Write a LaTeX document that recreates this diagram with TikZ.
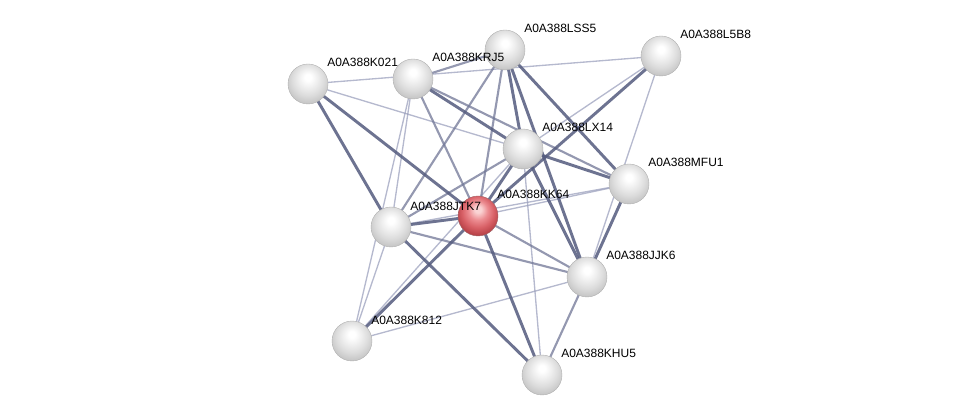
\documentclass[tikz,border=0pt]{standalone}
\usepackage{fontspec}
\setmainfont{Liberation Sans}
\usepackage{tikz}
\usetikzlibrary{backgrounds}
\definecolor{linkdark}{RGB}{84,91,126}
\definecolor{linkmid}{RGB}{112,118,150}
\definecolor{linklight}{RGB}{150,155,185}
\definecolor{greyB}{RGB}{238,238,238}
\definecolor{greyC}{RGB}{220,220,220}
\definecolor{greyD}{RGB}{198,198,198}
\definecolor{greyE}{RGB}{140,140,140}
\definecolor{redA}{RGB}{250,212,212}
\definecolor{redB}{RGB}{236,140,145}
\definecolor{redC}{RGB}{216,96,102}
\definecolor{redD}{RGB}{182,64,70}
\definecolor{redE}{RGB}{120,38,42}
\pgfdeclareradialshading{greysphere}{\pgfqpoint{0bp}{9bp}}{color(0bp)=(white); color(4bp)=(white); color(12bp)=(greyB); color(20bp)=(greyC); color(28bp)=(greyD); color(34bp)=(greyE); color(50bp)=(greyE)}
\pgfdeclareradialshading{redsphere}{\pgfqpoint{0bp}{9bp}}{color(0bp)=(redA); color(4bp)=(redA); color(12bp)=(redB); color(20bp)=(redC); color(28bp)=(redD); color(34bp)=(redE); color(50bp)=(redE)}
\tikzset{
    prot/.style={circle, inner sep=0pt, minimum size=30pt, shading=greysphere, draw=gray!60, line width=.3pt},
    query/.style={prot, shading=redsphere, draw=redE!70},
    lbl/.style={anchor=west, inner sep=0pt, font=\fontsize{9}{10}\selectfont},
    strong/.style={line width=2.2pt, color=linkdark, opacity=.85},
    mid/.style={line width=1.6pt, color=linkmid, opacity=.75},
    weak/.style={line width=1pt, color=linklight, opacity=.7}}

\begin{document}
\begin{tikzpicture}[x=0.75pt, y=-0.75pt]
\useasboundingbox (0,0) rectangle (975,420);

%proteins
\node[prot] (K021) at (308,84) {};
\node[prot] (KRJ5) at (413,79) {};
\node[prot] (LSS5) at (505,50) {};
\node[prot] (L5B8) at (661,56) {};
\node[prot] (LX14) at (523,149) {};
\node[prot] (MFU1) at (629,184) {};
\node[query] (KK64) at (478,216) {};
\node[prot] (JTK7) at (391,227) {};
\node[prot] (JJK6) at (587,277) {};
\node[prot] (K812) at (352,341) {};
\node[prot] (KHU5) at (542,375) {};

%names
\node[lbl] (K021 name) at (327,62) {A0A388K021};
\node[lbl] (KRJ5 name) at (432,57) {A0A388KRJ5};
\node[lbl] (LSS5 name) at (524,28) {A0A388LSS5};
\node[lbl] (L5B8 name) at (680,34) {A0A388L5B8};
\node[lbl] (LX14 name) at (542,127) {A0A388LX14};
\node[lbl] (MFU1 name) at (648,162) {A0A388MFU1};
\node[lbl] (KK64 name) at (497,194) {A0A388KK64};
\node[lbl] (JTK7 name) at (410,206) {A0A388JTK7};
\node[lbl] (JJK6 name) at (606,255) {A0A388JJK6};
\node[lbl] (K812 name) at (371,320) {A0A388K812};
\node[lbl] (KHU5 name) at (561,353) {A0A388KHU5};

\begin{pgfonlayer}{background}
%weak links
\draw [weak](K021.center)--(LX14.center);
\draw [weak](K021.center)--(L5B8.center);
\draw [weak](KRJ5.center)--(JTK7.center);
\draw [weak](K812.center)--(KRJ5.center);
\draw [weak](L5B8.center)--(LX14.center);
\draw [weak](L5B8.center)--(JJK6.center);
\draw [weak](MFU1.center)--(KK64.center);
\draw [weak](MFU1.center)--(JTK7.center);
\draw [weak](K812.center)--(JJK6.center);
\draw [weak](LX14.center)--(KHU5.center);
\draw [weak](K812.center)--(JTK7.center);
\draw [weak](K812.center)--(LX14.center);
%medium links
\draw [mid](KRJ5.center)--(LSS5.center);
\draw [mid](LSS5.center)--(KK64.center);
\draw [mid](LSS5.center)--(JTK7.center);
\draw [mid](LX14.center)--(JTK7.center);
\draw [mid](JTK7.center)--(JJK6.center);
\draw [mid](KRJ5.center)--(KK64.center);
\draw [mid](KRJ5.center)--(MFU1.center);
\draw [mid](KK64.center)--(JJK6.center);
\draw [mid](JJK6.center)--(KHU5.center);
%strong links
\draw [strong](K021.center)--(JTK7.center);
\draw [strong](K021.center)--(KK64.center);
\draw [strong](KRJ5.center)--(LX14.center);
\draw [strong](LSS5.center)--(LX14.center);
\draw [strong](LSS5.center)--(MFU1.center);
\draw [strong](LSS5.center)--(JJK6.center);
\draw [strong](L5B8.center)--(KK64.center);
\draw [strong](LX14.center)--(MFU1.center);
\draw [strong](LX14.center)--(JJK6.center);
\draw [strong](LX14.center)--(KK64.center);
\draw [strong](KK64.center)--(KHU5.center);
\draw [strong](KK64.center)--(K812.center);
\draw [strong](JTK7.center)--(KHU5.center);
\draw [strong](JTK7.center)--(KK64.center);
\draw [strong](MFU1.center)--(JJK6.center);
\end{pgfonlayer}

\end{tikzpicture}
\end{document}
